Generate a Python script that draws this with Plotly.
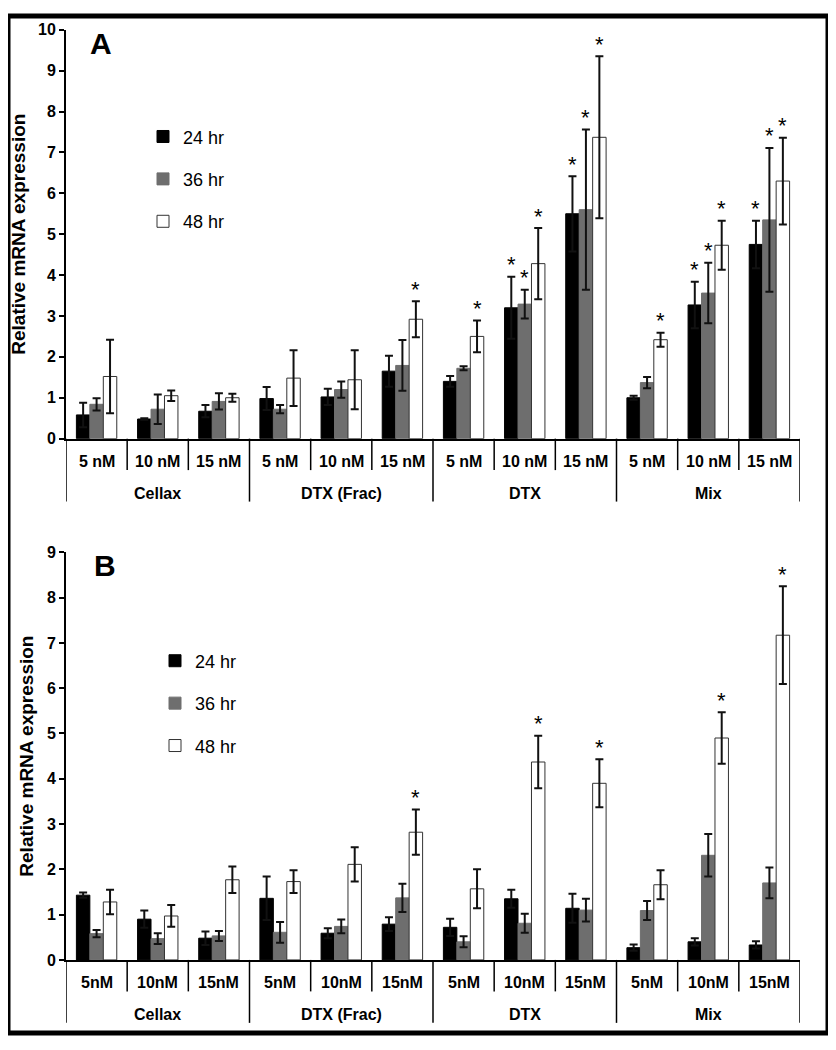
import plotly.graph_objects as go

# ---------------- data ----------------
groups = ["Cellax", "DTX (Frac)", "DTX", "Mix"]
sub_A = ["5 nM", "10 nM", "15 nM"]
sub_B = ["5nM", "10nM", "15nM"]
series_names = ["24 hr", "36 hr", "48 hr"]

A_24 = [0.58, 0.48, 0.67, 0.98, 1.02, 1.65, 1.40, 3.20, 5.50, 1.00, 3.27, 4.75]
A_24_err = [0.30, 0.02, 0.15, 0.28, 0.20, 0.38, 0.13, 0.76, 0.92, 0.05, 0.57, 0.58]
A_36 = [0.84, 0.72, 0.91, 0.72, 1.20, 1.79, 1.72, 3.29, 5.60, 1.37, 3.56, 5.35]
A_36_err = [0.15, 0.36, 0.20, 0.10, 0.20, 0.62, 0.05, 0.35, 1.96, 0.14, 0.74, 1.76]
A_48 = [1.52, 1.05, 1.00, 1.48, 1.44, 2.92, 2.50, 4.28, 7.37, 2.42, 4.73, 6.30]
A_48_err = [0.90, 0.13, 0.10, 0.68, 0.72, 0.44, 0.39, 0.87, 1.98, 0.17, 0.60, 1.06]
A_24_sig = [0, 0, 0, 0, 0, 0, 0, 1, 1, 0, 1, 1]
A_36_sig = [0, 0, 0, 0, 0, 0, 0, 1, 1, 0, 1, 1]
A_48_sig = [0, 0, 0, 0, 0, 1, 1, 1, 1, 1, 1, 1]

B_24 = [1.43, 0.90, 0.48, 1.36, 0.59, 0.79, 0.72, 1.35, 1.14, 0.27, 0.40, 0.33]
B_24_err = [0.06, 0.19, 0.15, 0.48, 0.11, 0.15, 0.19, 0.20, 0.32, 0.07, 0.08, 0.08]
B_36 = [0.58, 0.47, 0.53, 0.61, 0.74, 1.37, 0.40, 0.81, 1.10, 1.09, 2.31, 1.70]
B_36_err = [0.08, 0.12, 0.11, 0.23, 0.15, 0.31, 0.12, 0.21, 0.25, 0.21, 0.47, 0.34]
B_48 = [1.28, 0.97, 1.77, 1.73, 2.11, 2.82, 1.57, 4.37, 3.90, 1.66, 4.90, 7.17]
B_48_err = [0.27, 0.24, 0.29, 0.25, 0.38, 0.50, 0.43, 0.58, 0.53, 0.32, 0.57, 1.08]
B_24_sig = [0] * 12
B_36_sig = [0] * 12
B_48_sig = [0, 0, 0, 0, 0, 1, 0, 1, 1, 0, 1, 1]

# ---------------- style ----------------
PAGE_W, PAGE_H = 836, 1050
OFF = 8  # default body margin of the html page
W, H = PAGE_W - 2 * OFF, PAGE_H - 2 * OFF
FONT = "Arial, 'Liberation Sans', sans-serif"
colors = ["#000000", "#6e6e6e", "#ffffff"]
line_colors = ["#000000", "#6e6e6e", "#333333"]
BAR_W = 0.22
offsets = [-0.33, -0.11, 0.11]


def px_x(px):
    return (px - OFF) / W


def px_y(py):
    return 1 - (py - OFF) / H


X_LEFT, X_RIGHT = 66, 800
panels = [
    dict(name="A", zero=437.7, subs=sub_A,
         vals=[A_24, A_36, A_48], errs=[A_24_err, A_36_err, A_48_err],
         sigs=[A_24_sig, A_36_sig, A_48_sig], xa="x", ya="y", legend="legend",
         label_xy=(101, 36)),
    dict(name="B", zero=967.7, subs=sub_B,
         vals=[B_24, B_36, B_48], errs=[B_24_err, B_36_err, B_48_err],
         sigs=[B_24_sig, B_36_sig, B_48_sig], xa="x2", ya="y2", legend="legend2",
         label_xy=(105, 567)),
]

n_cat = len(groups) * 3
xs = list(range(n_cat))

fig = go.Figure()
shapes = []
annotations = []

for p in panels:
    for k in range(3):
        fig.add_trace(go.Bar(
            x=xs, y=p["vals"][k], name=series_names[k],
            width=BAR_W, offset=offsets[k],
            marker=dict(color=colors[k], line=dict(color=line_colors[k], width=1)),
            error_y=dict(type="data", array=p["errs"][k], visible=True,
                         color="#111111", thickness=2, width=4),
            xaxis=p["xa"], yaxis=p["ya"], legend=p["legend"],
            legendgroup=p["name"] + series_names[k],
        ))
        # significance stars
        for i in xs:
            if p["sigs"][k][i]:
                annotations.append(dict(
                    x=i + offsets[k] + BAR_W / 2,
                    y=p["vals"][k][i] + p["errs"][k][i],
                    xref=p["xa"], yref=p["ya"], text="*", showarrow=False,
                    yanchor="middle", yshift=12,
                    font=dict(family=FONT, size=22, color="black"),
                ))
    zero = p["zero"]
    # separators below axis
    for b in range(n_cat + 1):
        xb = b - 0.5
        is_group = (b % 3 == 0)
        shapes.append(dict(
            type="line", xref=p["xa"], yref="paper",
            x0=xb, x1=xb, y0=px_y(zero), y1=px_y(zero + (64 if is_group else 32)),
            line=dict(color="black", width=1.5),
        ))
    # sub-category labels
    for i in xs:
        annotations.append(dict(
            x=i, y=px_y(zero + 23), xref=p["xa"], yref="paper",
            text=p["subs"][i % 3], showarrow=False, yanchor="middle",
            font=dict(family=FONT, size=16, color="black", weight="bold"),
        ))
    # group labels
    for g, gname in enumerate(groups):
        annotations.append(dict(
            x=g * 3 + 1, y=px_y(zero + 55.5), xref=p["xa"], yref="paper",
            text=gname, showarrow=False, yanchor="middle",
            font=dict(family=FONT, size=16, color="black", weight="bold"),
        ))
    # panel letter
    annotations.append(dict(
        x=px_x(p["label_xy"][0]), y=px_y(p["label_xy"][1]), xref="paper", yref="paper",
        text=p["name"], showarrow=False, xanchor="center", yanchor="middle",
        font=dict(family=FONT, size=30, color="black", weight="bold"),
    ))

# outer frame
shapes.append(dict(type="rect", xref="paper", yref="paper",
                   x0=0, x1=1, y0=0, y1=1,
                   line=dict(color="black", width=5), fillcolor="rgba(0,0,0,0)"))

axis_common = dict(
    showline=True, linecolor="black", linewidth=2, mirror=False,
    showgrid=False, zeroline=False,
)
yaxis_common = dict(
    dtick=1, ticks="outside", ticklen=5, tickwidth=2, tickcolor="black",
    tickfont=dict(family=FONT, size=16, weight="bold"),
    title=dict(text="Relative mRNA expression",
               font=dict(family=FONT, size=19, weight="bold"), standoff=8),
    **axis_common,
)

fig.update_layout(
    width=W, height=H,
    margin=dict(l=0, r=0, t=0, b=0),
    paper_bgcolor="white", plot_bgcolor="white",
    barmode="overlay",
    font=dict(family=FONT, color="black"),
    shapes=shapes, annotations=annotations,
    xaxis=dict(domain=[px_x(X_LEFT), px_x(X_RIGHT)], range=[-0.5, n_cat - 0.5],
               anchor="y", showticklabels=False, ticks="", **axis_common),
    xaxis2=dict(domain=[px_x(X_LEFT), px_x(X_RIGHT)], range=[-0.5, n_cat - 0.5],
                anchor="y2", showticklabels=False, ticks="", **axis_common),
    yaxis=dict(domain=[px_y(437.7), px_y(22)], range=[0, 10], anchor="x", **yaxis_common),
    yaxis2=dict(domain=[px_y(967.7), px_y(553.3)], range=[0, 9], anchor="x2", **yaxis_common),
    legend=dict(x=px_x(143), y=px_y(112), xanchor="left", yanchor="top",
                font=dict(family=FONT, size=18), tracegroupgap=16,
                bgcolor="rgba(0,0,0,0)"),
    legend2=dict(x=px_x(155), y=px_y(645), xanchor="left", yanchor="top",
                 font=dict(family=FONT, size=18), tracegroupgap=16,
                 bgcolor="rgba(0,0,0,0)"),
)

fig.write_html("out.html")
